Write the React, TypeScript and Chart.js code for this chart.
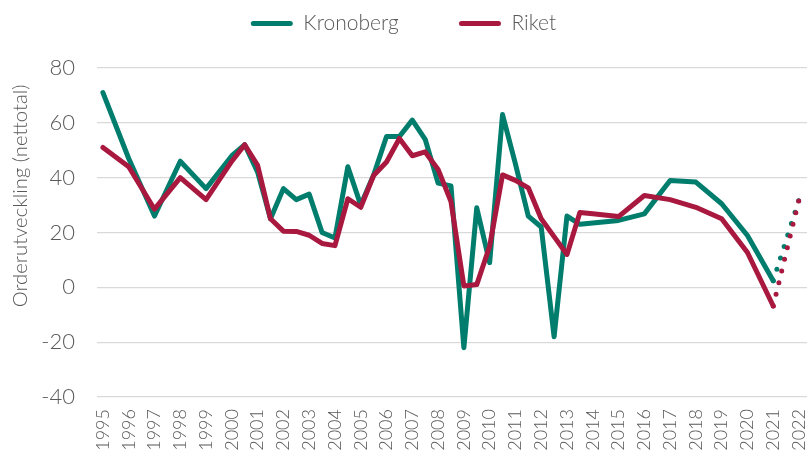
import React, { useEffect, useRef } from "react";
import { Chart, registerables } from "chart.js";

Chart.register(...registerables);

// ---- data ----
const periods = [
  1995, 1996, 1997, 1998, 1999, 2000, 2000.5, 2001, 2001.5, 2002, 2002.5, 2003, 2003.5,
  2004, 2004.5, 2005, 2005.5, 2006, 2006.5, 2007, 2007.5, 2008, 2008.5, 2009, 2009.5,
  2010, 2010.5, 2011, 2011.5, 2012, 2012.5, 2013, 2013.5, 2014, 2015, 2016, 2017, 2018,
  2019, 2020, 2021,
];

const kronoberg = [
  71, 47, 26, 46, 36, 48, 52, 42, 25, 36, 32, 34, 20,
  18, 44, 30, 41, 55, 55, 61, 54, 38, 37, -22, 29,
  9, 63, 45, 26, 22, -18, 26, 23, 23.5, 24.4, 26.8, 39, 38.4,
  30.5, 18.9, 2.4,
];

const riket = [
  51, 44, 28.5, 40, 32, 46, 52, 44.5, 25, 20.5, 20.4, 19, 16,
  15.2, 32.3, 29.2, 40.8, 45.7, 54.3, 48, 49.4, 43, 31.3, 0.5, 1,
  15, 41, 39, 36.3, 25, 18.5, 12, 27.3, 26.8, 25.8, 33.5, 32, 29.2,
  25, 12.7, -6.8,
];

const forecastPeriods = [2021, 2022];
const kronobergForecast = [2.4, 32];
const riketForecast = [-6.8, 32];

const yearTicks = [
  1995, 1996, 1997, 1998, 1999, 2000, 2001, 2002, 2003, 2004, 2005, 2006, 2007, 2008,
  2009, 2010, 2011, 2012, 2013, 2014, 2015, 2016, 2017, 2018, 2019, 2020, 2021, 2022,
];

const seriesNames = ["Kronoberg", "Riket"];
const yTitle = "Orderutveckling (nettotal)";

// ---- styling ----
const GREEN = "#007D6C";
const RED = "#A8183F";
const TEXT = "#595959";
const GRID = "#d9d9d9";
const FONT = "Lato, 'Open Sans', sans-serif";
const WEIGHT = 300;

const toPoints = (xs: number[], ys: number[]) => xs.map((x, i) => ({ x, y: ys[i] }));

const legendHeightPlugin = {
  id: "legendHeight",
  beforeLayout(chart: any) {
    const lg = chart.legend;
    if (lg && !lg.__patched) {
      const orig = lg.fit;
      lg.fit = function () {
        orig.call(this);
        this.height = 68;
      };
      lg.__patched = true;
    }
  },
};

export default function App() {
  const ref = useRef<HTMLCanvasElement | null>(null);

  useEffect(() => {
    if (!ref.current) return;
    const chart = new Chart(ref.current, {
      type: "line",
      data: {
        datasets: [
          {
            label: seriesNames[0],
            data: toPoints(periods, kronoberg),
            borderColor: GREEN,
            backgroundColor: GREEN,
            borderWidth: 5,
            pointRadius: 0,
            borderJoinStyle: "round",
            borderCapStyle: "round",
            order: 3,
          },
          {
            label: seriesNames[1],
            data: toPoints(periods, riket),
            borderColor: RED,
            backgroundColor: RED,
            borderWidth: 5,
            pointRadius: 0,
            borderJoinStyle: "round",
            borderCapStyle: "round",
            order: 1,
          },
          {
            label: seriesNames[0] + " prognos",
            data: toPoints(forecastPeriods, kronobergForecast),
            borderColor: GREEN,
            backgroundColor: GREEN,
            borderWidth: 5,
            pointRadius: 0,
            borderDash: [0, 12],
            borderCapStyle: "round",
            order: 4,
          },
          {
            label: seriesNames[1] + " prognos",
            data: toPoints(forecastPeriods, riketForecast),
            borderColor: RED,
            backgroundColor: RED,
            borderWidth: 5,
            pointRadius: 0,
            borderDash: [0, 12],
            borderCapStyle: "round",
            order: 2,
          },
        ],
      },
      options: {
        animation: false,
        responsive: true,
        maintainAspectRatio: false,
        layout: { padding: 0 },
        plugins: {
          tooltip: { enabled: false },
          legend: {
            position: "top",
            labels: {
              boxWidth: 42,
              boxHeight: 5,
              useBorderRadius: true,
              borderRadius: 2.5,
              padding: 13,
              color: TEXT,
              font: { family: FONT, size: 21, weight: WEIGHT },
              filter: (item: any) => item.datasetIndex < 2,
              sort: (a: any, b: any) => a.datasetIndex - b.datasetIndex,
              generateLabels: (c: any) =>
                Chart.defaults.plugins.legend.labels
                  .generateLabels(c)
                  .map((it: any) => ({
                    ...it,
                    fillStyle: it.strokeStyle,
                    lineWidth: 0,
                    lineDash: [],
                    text: it.datasetIndex === 0 ? it.text + "\u2003\u2003\u2003" : it.text,
                  })),
            },
          },
        },
        scales: {
          x: {
            type: "linear",
            min: 1994.77,
            max: 2022.31,
            grid: { display: false, drawTicks: false },
            border: { display: false },
            ticks: {
              autoSkip: false,
              maxRotation: 90,
              minRotation: 90,
              padding: 12,
              color: TEXT,
              font: { family: FONT, size: 18, weight: WEIGHT },
              callback: (v: any) => String(v),
            },
            afterBuildTicks: (axis: any) => {
              axis.ticks = yearTicks.map((v) => ({ value: v }));
            },
            afterFit: (axis: any) => {
              axis.height = 58;
              axis.paddingLeft = 0;
              axis.paddingRight = 0;
            },
          },
          y: {
            min: -40,
            max: 80,
            grid: { color: GRID, lineWidth: 1.3, drawTicks: false },
            border: { display: false },
            ticks: {
              stepSize: 20,
              padding: 22,
              color: TEXT,
              font: { family: FONT, size: 22, weight: WEIGHT },
            },
            title: {
              display: true,
              text: yTitle + "   ",
              align: "end",
              color: TEXT,
              font: { family: FONT, size: 20.3, weight: WEIGHT },
              padding: { top: 8, bottom: 0 },
            },
            afterFit: (axis: any) => {
              axis.width = 97;
            },
          },
        },
      },
      plugins: [legendHeightPlugin],
    } as any);
    return () => chart.destroy();
  }, []);

  return (
    <div style={{ position: "absolute", left: 0, top: 0, width: 807, height: 455 }}>
      <canvas ref={ref} />
    </div>
  );
}
